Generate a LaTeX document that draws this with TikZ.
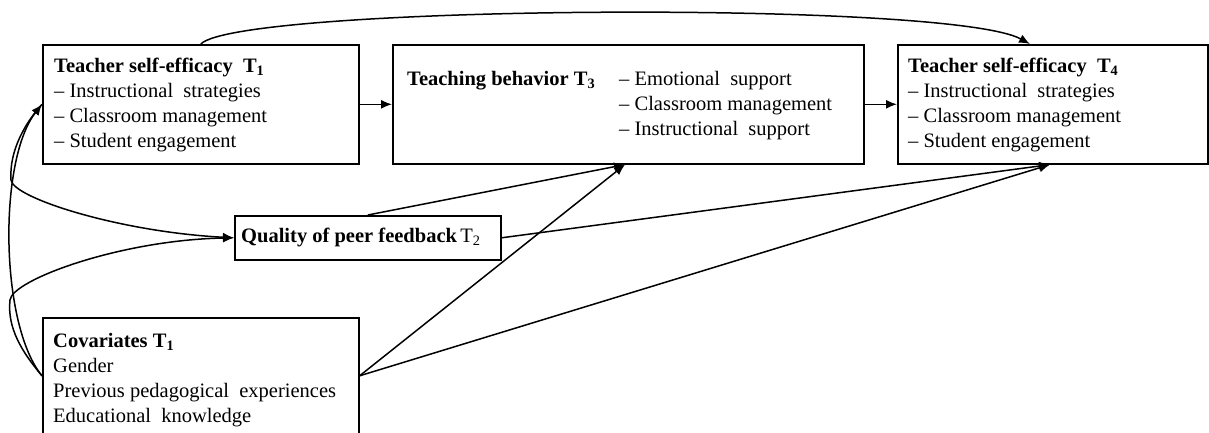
\documentclass[tikz,border=0pt]{standalone}
\usepackage{fontspec}
\setmainfont{Liberation Serif}
\usetikzlibrary{arrows.meta,calc}
\begin{document}
\begin{tikzpicture}[x=1pt,y=-1pt,
  box/.style={draw=black,line width=1.6pt,rectangle,inner sep=0pt,anchor=north west},
  txt/.style={anchor=base west,inner sep=0pt,font=\fontsize{20.5}{25}\selectfont},
  arr/.style={line width=1.5pt,-{Latex[length=11pt,width=9pt]}},
  ln/.style={line width=1.5pt}]
\useasboundingbox (0,0) rectangle (1209,432);
% boxes
\node[box,minimum width=316pt,minimum height=119pt] (t1) at (42,44) {};
\node[box,minimum width=471pt,minimum height=119pt] (t3) at (392,44) {};
\node[box,minimum width=310pt,minimum height=119pt] (t4) at (897,44) {};
\node[box,minimum width=266pt,minimum height=44pt] (q) at (234,215) {};
\node[box,minimum width=316pt,minimum height=116pt] (cov) at (42,317) {};
% texts
\node[txt] (t1a) at (54,72) {\textbf{Teacher self-efficacy\ \ T\textsubscript{1}}};
\node[txt] (t1b) at (54,97) {– Instructional\ \ strategies};
\node[txt] (t1c) at (54,122) {– Classroom management};
\node[txt] (t1d) at (54,147) {– Student engagement};
\node[txt] (t3a) at (407,85) {\textbf{Teaching behavior T\textsubscript{3}}};
\node[txt] (t3b) at (619,85) {– Emotional\ \ support};
\node[txt] (t3c) at (619,110) {– Classroom management};
\node[txt] (t3d) at (619,135) {– Instructional\ \ support};
\node[txt] (t4a) at (908,72) {\textbf{Teacher self-efficacy\ \ T\textsubscript{4}}};
\node[txt] (t4b) at (908,97) {– Instructional\ \ strategies};
\node[txt] (t4c) at (908,122) {– Classroom management};
\node[txt] (t4d) at (908,147) {– Student engagement};
\node[txt] (qa) at (241,242) {\textbf{Quality\ of\ peer\ feedback}\,T\textsubscript{2}};
\node[txt] (ca) at (53,347) {\textbf{Covariates T\textsubscript{1}}};
\node[txt] (cb) at (53,372) {Gender};
\node[txt] (cc) at (53,397) {Previous pedagogical\ \ experiences};
\node[txt] (cd) at (53,422) {Educational\ \ knowledge};
% connectors
\draw[arr] (t1.east) -- (t3.west);
\draw[arr] (t3.east) -- (t4.west);
\draw[arr] (t1.north) .. controls (240,5) and (950,0) .. ([xshift=133pt]t4.north west);
\draw[arr] (q.north) -- ([xshift=233pt]t3.south west);
\draw[arr] (cov.east) -- ([xshift=233pt]t3.south west);
\draw[arr] (q.east) -- ([xshift=153pt]t4.south west);
\draw[arr] (cov.east) -- ([xshift=153pt]t4.south west);
% left curves
\draw[arr] (cov.west) .. controls (0,325) and (-2,160) .. (t1.west);
\draw[arr] (t1.west) .. controls (26,122) and (9,150) .. (11,180) .. controls (13,198) and (120,232) .. (q.west);
\draw[arr] (cov.west) .. controls (22,352) and (7,328) .. (10,300) .. controls (12,280) and (120,240) .. (q.west);
\end{tikzpicture}
\end{document}
